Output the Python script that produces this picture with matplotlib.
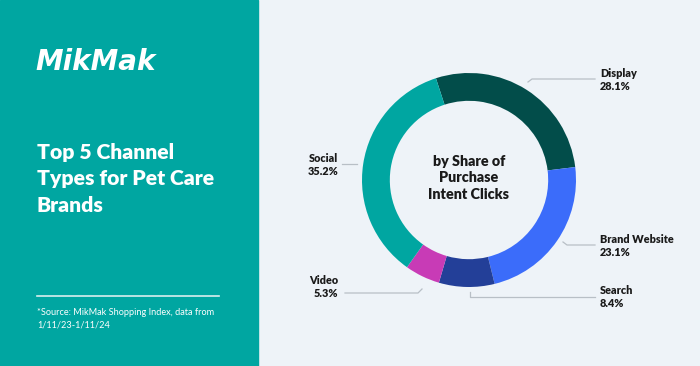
import matplotlib
matplotlib.use("Agg")
import matplotlib.pyplot as plt
from matplotlib.patches import Rectangle
from matplotlib.lines import Line2D

plt.rcParams['font.family'] = ['Lato', 'DejaVu Sans']

# data, clockwise from the top
channels = ['Display', 'Brand Website', 'Search', 'Video', 'Social']
shares = [28.1, 23.1, 8.4, 5.3, 35.2]
colors = ['#024d4a', '#3b6cfa', '#233f98', '#c83bb6', '#00a6a1']

title = 'Top 5 Channel\nTypes for Pet Care\nBrands'
source = '*Source: MikMak Shopping Index, data from\n1/11/23-1/11/24'
center_text = 'by Share of\nPurchase\nIntent Clicks'

W, H = 700, 366
fig = plt.figure(figsize=(W / 100, H / 100), dpi=100)
fig.patch.set_facecolor('#eef3f8')

def px(x, y):
    return x / W, 1 - y / H

# left panel
fig.add_artist(Rectangle((0, 0), 258 / W, 1, transform=fig.transFigure,
                         color='#00a6a1', zorder=0))
fig.text(*px(35, 62), 'MikMak', color='white', fontsize=20, fontweight='bold',
         style='italic', family=['DejaVu Sans'], va='center', ha='left')
fig.text(*px(37, 179), title, color='white', va='center', ha='left',
         linespacing=1.45, fontsize=15.2, fontweight='heavy')
fig.add_artist(Line2D([37 / W, 219 / W], [1 - 296 / H] * 2,
                      transform=fig.transFigure, color='#d9efee', lw=1.2))
fig.text(*px(37, 319), source, color='white', fontsize=6.6,
         va='center', ha='left', linespacing=1.55)

# donut
cx, cy, r = 469, 180, 107
ax = fig.add_axes([(cx - r) / W, (H - cy - r) / H, 2 * r / W, 2 * r / H])
ax.pie(shares, colors=colors, startangle=108, counterclock=False,
       wedgeprops=dict(width=0.26, linewidth=0))
ax.set_xlim(-1, 1)
ax.set_ylim(-1, 1)
ax.axis('off')
ax.text(0, 0.02, center_text, ha='center', va='center', fontsize=10.3,
        fontweight='heavy', color='#1a1a1a', linespacing=1.3)

# leader lines and labels
leaders = {
    'Display': [(528, 82), (532, 79), (595, 79)],
    'Brand Website': [(563, 242), (567, 245), (595, 245)],
    'Search': [(470, 292), (470, 297), (595, 297)],
    'Video': [(422, 289), (418, 293), (345, 293)],
    'Social': [(357, 164), (342, 164)],
}
label_pos = {
    'Display': (600, 80, 'left'),
    'Brand Website': (600, 246, 'left'),
    'Search': (600, 297, 'left'),
    'Video': (338, 287, 'right'),
    'Social': (338, 165, 'right'),
}
for name, share in zip(channels, shares):
    pts = leaders[name]
    xs = [p[0] / W for p in pts]
    ys = [1 - p[1] / H for p in pts]
    fig.add_artist(Line2D(xs, ys, transform=fig.transFigure,
                          color='#b8bfc6', lw=0.9))
    x, y, ha = label_pos[name]
    fig.text(*px(x, y), f'{name}\n{share}%', ha=ha, va='center', fontsize=7.8,
             fontweight='heavy', color='#1a1a1a', linespacing=1.25)

fig.savefig('out.png', dpi=100, facecolor=fig.get_facecolor())
